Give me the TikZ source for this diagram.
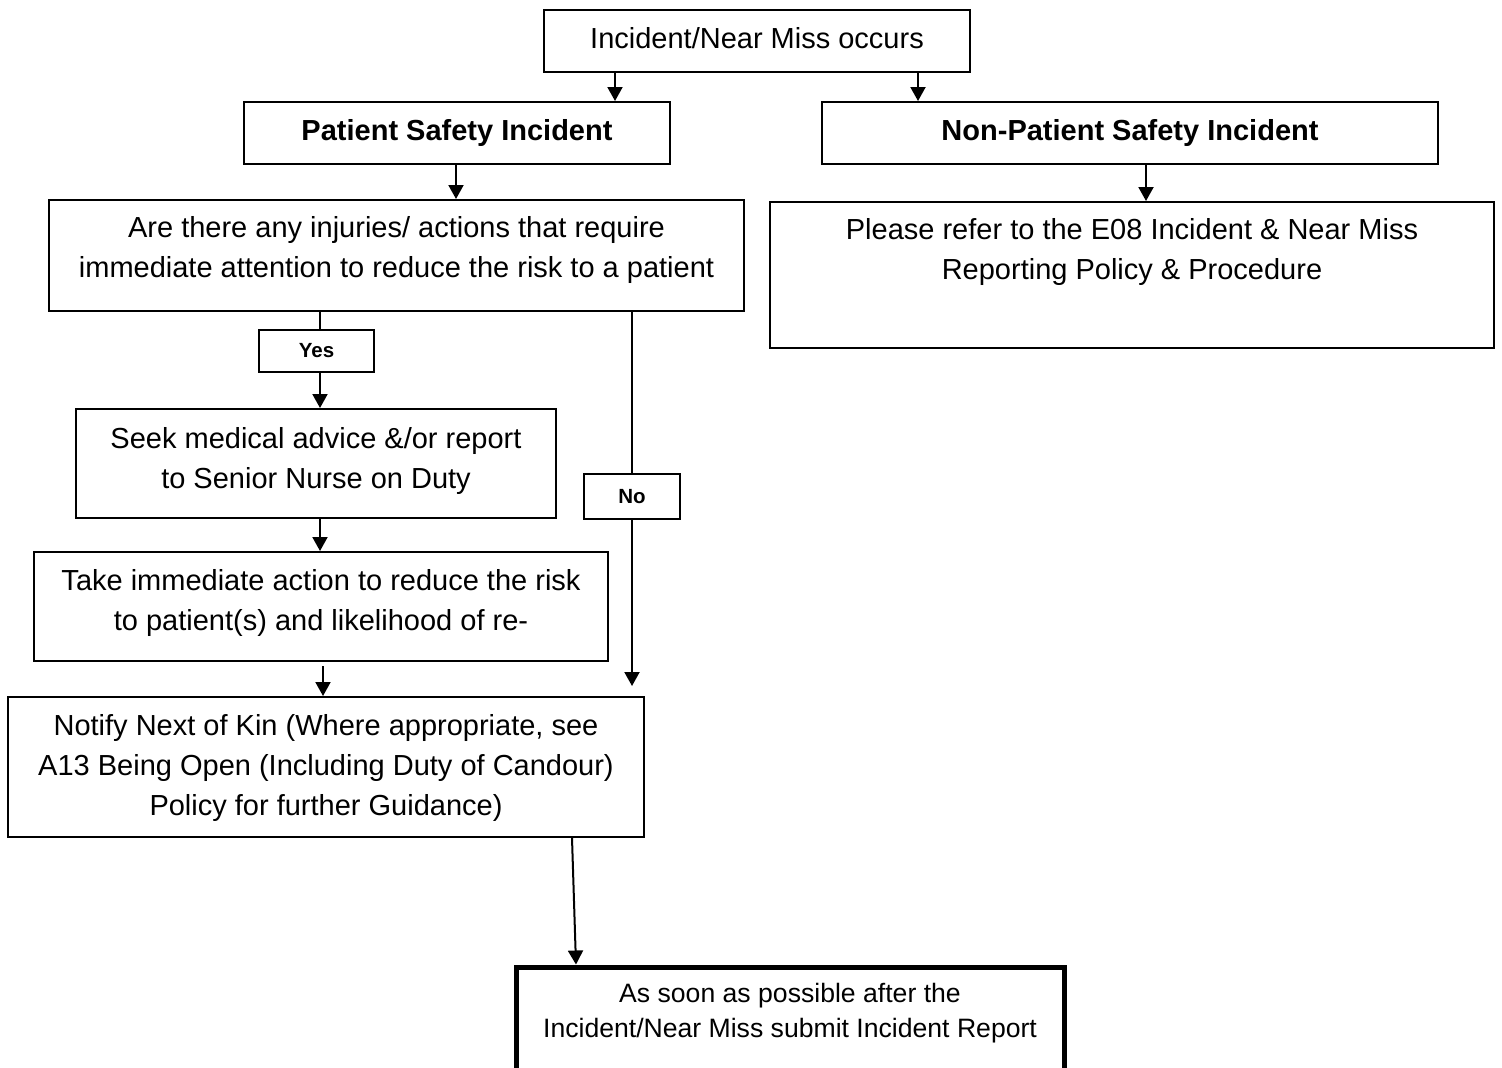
\documentclass[tikz,border=0pt]{standalone}
\usepackage{fontspec}
\setmainfont{Liberation Sans}
\usetikzlibrary{arrows.meta}

% fixed first-line height (#1) and last-line depth (#2) so the text sits where wanted
\newcommand\boxlines[3]{\rule{0pt}{#1pt}#3\rule[-#2pt]{0pt}{#2pt}}

\tikzset{
  flowbox/.style={draw, line width=2pt, inner sep=0pt, align=center,
                  font=\fontsize{29}{40}\selectfont},
  headbox/.style={flowbox, font=\bfseries\fontsize{29}{40}\selectfont},
  tagbox/.style={draw, line width=2pt, inner sep=0pt,
                 font=\bfseries\fontsize{20.5}{24}\selectfont},
  link/.style={line width=2pt},
  arr/.style={line width=2pt, -{Triangle[width=15pt,length=14pt]}}
}

\begin{document}
\begin{tikzpicture}[x=1pt,y=-1pt]
\useasboundingbox (0,0) rectangle (1502,1068);
\clip (0,0) rectangle (1502,1068);

% boxes
\node[flowbox, minimum width=426pt, minimum height=62pt] (occur) at (757,41)
  {\boxlines{22}{7}{Incident/Near Miss occurs}};
\node[headbox, minimum width=426pt, minimum height=62pt] (psi) at (457,133)
  {\boxlines{22}{6}{Patient Safety Incident}};
\node[headbox, minimum width=616pt, minimum height=62pt] (npsi) at (1130,133)
  {\boxlines{22}{6}{Non-Patient Safety Incident}};
\node[flowbox, minimum width=695pt, minimum height=111pt] (question) at (396.5,255.5)
  {\boxlines{22}{19}{Are there any injuries/ actions that require\\immediate attention to reduce the risk to a patient}};
\node[flowbox, minimum width=724pt, minimum height=146pt] (refer) at (1132,275)
  {\boxlines{22}{53}{Please refer to the E08 Incident \& Near Miss\\Reporting Policy \& Procedure}};
\node[tagbox, minimum width=115pt, minimum height=42pt] (yes) at (316.5,351) {Yes};
\node[flowbox, minimum width=480pt, minimum height=109pt] (seek) at (316,463.5)
  {\boxlines{22}{13}{Seek medical advice \&/or report\\to Senior Nurse on Duty}};
\node[tagbox, minimum width=96pt, minimum height=45pt] (no) at (632,496.5) {No};
\node[flowbox, minimum width=574pt, minimum height=109pt] (take) at (321,606.5)
  {\boxlines{22}{15}{Take immediate action to reduce the risk\\to patient(s) and likelihood of re-}};
\node[flowbox, minimum width=636pt, minimum height=140pt] (notify) at (326,767)
  {\boxlines{22}{4}{Notify Next of Kin (Where appropriate, see\\A13 Being Open (Including Duty of Candour)\\Policy for further Guidance)}};
\node[flowbox, line width=5pt, font=\fontsize{26.6}{35}\selectfont,
      minimum width=548pt, minimum height=133pt] (report) at (790,1033.5)
  {\boxlines{20}{48}{As soon as possible after the\\Incident/Near Miss submit Incident Report}};

% connectors
\draw[arr] (occur.south -| 615,0) -- (psi.north -| 615,0);
\draw[arr] (occur.south -| 918,0) -- (npsi.north -| 918,0);
\draw[arr] (psi.south -| 456,0) -- (question.north -| 456,0);
\draw[arr] (npsi.south -| 1146,0) -- (refer.north -| 1146,0);
\draw[link] (question.south -| 320,0) -- (yes.north -| 320,0);
\draw[arr] (yes.south -| 320,0) -- (seek.north -| 320,0);
\draw[link] (question.south -| no.north) -- (no.north);
\coordinate (noend) at ([yshift=10pt]notify.north -| no.south);
\draw[arr] (no.south) -- (noend);
\draw[arr] (seek.south -| 320,0) -- (take.north -| 320,0);
\draw[arr] ([yshift=-4pt]take.south -| 323,0) -- (notify.north -| 323,0);
\draw[arr] (notify.south -| 572,0) -- (report.north -| 576,0);
\end{tikzpicture}
\end{document}
